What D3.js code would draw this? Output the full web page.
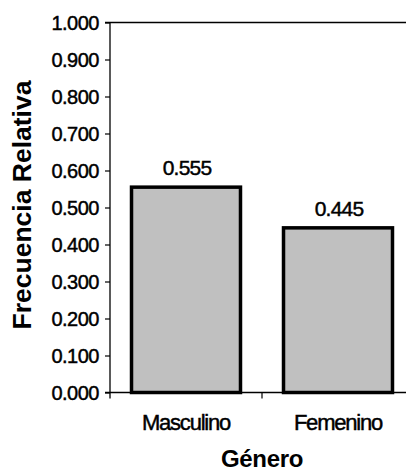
<!DOCTYPE html>
<html>
<head>
<meta charset="utf-8">
<script src="https://cdn.jsdelivr.net/npm/d3@7"></script>
<style>
  html, body { margin: 0; padding: 0; background: #fff; }
  svg { display: block; }
  text { font-family: "Liberation Sans", Arial, sans-serif; fill: #000; }
</style>
</head>
<body>
<svg id="chart" width="406" height="473"></svg>
<script>
const categories = ["Masculino", "Femenino"];
const values = [0.555, 0.445];
const valueLabels = ["0.555", "0.445"];
const yTicks = [0, 0.1, 0.2, 0.3, 0.4, 0.5, 0.6, 0.7, 0.8, 0.9, 1.0];
const xTitle = "Género";
const yTitle = "Frecuencia Relativa";

(function () {
const svg = d3.select("#chart");
const mLeft = 110, mRight = 414, mTop = 22.5, mBottom = 392.5;

const y = d3.scaleLinear().domain([0, 1]).range([mBottom, mTop]);
const x = d3.scaleBand().domain(categories).range([mLeft, mRight])
  .paddingInner(0.283).paddingOuter(0.1415);

// top border line
svg.append("line").attr("x1", mLeft - 5).attr("x2", 406)
  .attr("y1", y(1)).attr("y2", y(1))
  .attr("stroke", "#000").attr("stroke-width", 1.3);

// bars
svg.selectAll("rect.bar").data(values).enter().append("rect")
  .attr("class", "bar")
  .attr("x", (d, i) => x(categories[i]))
  .attr("width", x.bandwidth())
  .attr("y", d => y(d))
  .attr("height", d => y(0) - y(d))
  .attr("fill", "#c0c0c0")
  .attr("stroke", "#000")
  .attr("stroke-width", 3.5);

// y axis
const yAxis = d3.axisLeft(y).tickValues(yTicks)
  .tickFormat(d3.format(".3f")).tickSize(5).tickPadding(6);
const gy = svg.append("g").attr("transform", `translate(${mLeft},0)`).call(yAxis);
gy.select(".domain").remove();
gy.selectAll(".tick line").attr("stroke", "#000").attr("stroke-width", 1.2);
gy.selectAll(".tick text")
  .style("font-size", "20px")
  .style("letter-spacing", "-0.5px")
  .style("font-family", "'Liberation Sans', Arial, sans-serif")
  .attr("fill", "#000")
  .attr("stroke", "#000").attr("stroke-width", 0.45)
  .attr("dy", "0.34em");
svg.append("line").attr("x1", mLeft).attr("x2", mLeft)
  .attr("y1", mTop).attr("y2", mBottom + 6)
  .attr("stroke", "#000").attr("stroke-width", 1.3);

// x axis
svg.append("line").attr("x1", mLeft - 5).attr("x2", 406)
  .attr("y1", mBottom).attr("y2", mBottom)
  .attr("stroke", "#000").attr("stroke-width", 1.4);
const boundaries = categories.slice(1).map(c => x(c) - x.step() * x.paddingInner() / 2);
svg.selectAll("line.xtick").data(boundaries).enter().append("line")
  .attr("class", "xtick")
  .attr("x1", d => d).attr("x2", d => d)
  .attr("y1", mBottom).attr("y2", mBottom + 6)
  .attr("stroke", "#000").attr("stroke-width", 1.2);

// category labels
svg.selectAll("text.cat").data(categories).enter().append("text")
  .attr("class", "cat")
  .attr("x", d => x(d) + x.bandwidth() / 2)
  .attr("y", 430)
  .attr("text-anchor", "middle")
  .style("font-size", "22px")
  .style("letter-spacing", "-1.2px")
  .attr("stroke", "#000").attr("stroke-width", 0.45)
  .text(d => d);

// value labels
svg.selectAll("text.val").data(values).enter().append("text")
  .attr("class", "val")
  .attr("x", (d, i) => x(categories[i]) + x.bandwidth() / 2 + 1)
  .attr("y", d => y(d) - 12)
  .attr("text-anchor", "middle")
  .style("font-size", "21px")
  .style("letter-spacing", "-0.8px")
  .attr("stroke", "#000").attr("stroke-width", 0.45)
  .text((d, i) => valueLabels[i]);

// axis titles
svg.append("text")
  .attr("x", (mLeft + mRight) / 2)
  .attr("y", 467)
  .attr("text-anchor", "middle")
  .style("font-size", "24px")
  .style("font-weight", "bold")
  .style("letter-spacing", "-0.3px")
  .text(xTitle);

svg.append("text")
  .attr("transform", "translate(31,205) rotate(-90)")
  .attr("text-anchor", "middle")
  .style("font-size", "26.5px")
  .style("font-weight", "bold")
  .text(yTitle);
})();
</script>
</body>
</html>
